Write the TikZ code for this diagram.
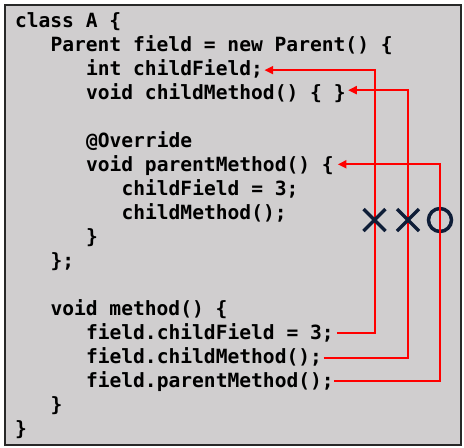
\documentclass[tikz,border=0pt]{standalone}
\usepackage{fontspec}
\setmonofont{DejaVu Sans Mono}
\usetikzlibrary{arrows.meta,calc}
\definecolor{boxgray}{RGB}{208,206,207}
\definecolor{boxedge}{RGB}{40,40,40}
\definecolor{markblue}{RGB}{15,30,56}
\tikzset{
  codeline/.style={anchor=base west,inner sep=0pt,outer sep=0pt,
    font=\ttfamily\bfseries\fontsize{14.7pt}{18pt}\selectfont,text=black},
  refline/.style={draw=red,line width=1.5pt},
  refarrow/.style={refline,-{Triangle[length=6.5pt,width=6pt]}},
  crossmark/.style={draw=markblue,line width=2.6pt},
}
\begin{document}
\begin{tikzpicture}[x=0.75pt,y=-0.75pt]
\useasboundingbox (0,0) rectangle (464,447);
\draw[boxedge,fill=boxgray,line width=1.5pt] (5,5) rectangle (461,445);
% code lines: baseline = 27 + (n-1)*24.05
\node[codeline] (l1)  at (15,27)     {class A \{};
\node[codeline] (l2)  at (50.5,51.05)  {Parent field = new Parent() \{};
\node[codeline] (l3)  at (86,75.1)   {int childField;};
\node[codeline] (l4)  at (86,99.15)  {void childMethod() \{ \}};
\node[codeline] (l6)  at (86,147.25) {@Override};
\node[codeline] (l7)  at (86,171.3)  {void parentMethod() \{};
\node[codeline] (l8)  at (121.5,195.35) {childField = 3;};
\node[codeline] (l9)  at (121.5,219.4)  {childMethod();};
\node[codeline] (l10) at (86,243.45) {\}};
\node[codeline] (l11) at (50.5,267.5)  {\};};
\node[codeline] (l13) at (50.5,315.6)  {void method() \{};
\node[codeline] (l14) at (86,339.65) {field.childField = 3;};
\node[codeline] (l15) at (86,363.7)  {field.childMethod();};
\node[codeline] (l16) at (86,387.75) {field.parentMethod();};
\node[codeline] (l17) at (50.5,411.8)  {\}};
\node[codeline] (l18) at (15,435.85) {\}};
% columns of the connectors
\coordinate (c1) at (374.5,0);
\coordinate (c2) at (408,0);
\coordinate (c3) at (439.5,0);
% ends of the connectors
\coordinate (t3) at ($(l3.base east)+(1.5,-5)$);
\coordinate (t4) at ($(l4.base east)+(2.5,-9)$);
\coordinate (t7) at ($(l7.base east)+(4,-7)$);
\coordinate (s14) at ($(l14.base east)+(3,-6.3)$);
\coordinate (s15) at ($(l15.base east)+(1.5,-6)$);
\coordinate (s16) at ($(l16.base east)+(0.5,-6.7)$);
% circle drawn below the red line
\draw[crossmark] (440,220) circle[radius=11.5];
\draw[refarrow] (s14) -- (s14 -| c1) -- (t3 -| c1) -- (t3);
\draw[refarrow] (s15) -- (s15 -| c2) -- (t4 -| c2) -- (t4);
\draw[refarrow] (s16) -- (s16 -| c3) -- (t7 -| c3) -- (t7);
% crosses drawn above the red lines
\draw[crossmark] (363.5,209) -- (385.5,231) (363.5,231) -- (385.5,209);
\draw[crossmark] (397,209) -- (419,231) (397,231) -- (419,209);
\end{tikzpicture}
\end{document}
